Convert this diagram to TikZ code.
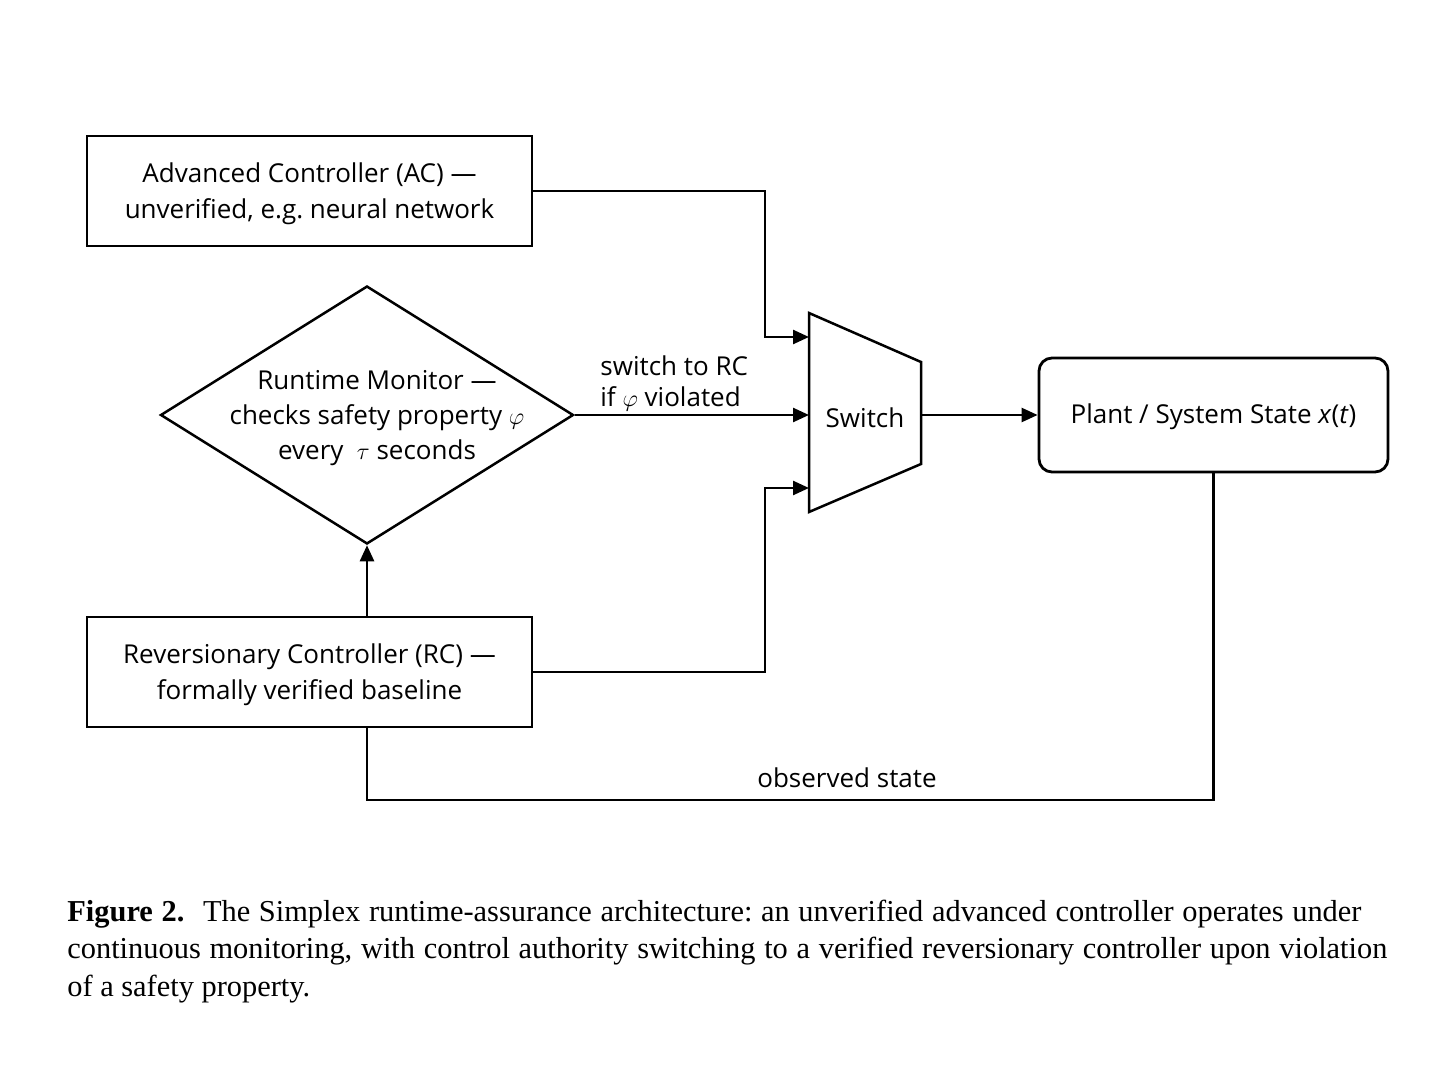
\documentclass[tikz,border=0pt]{standalone}
\usepackage{fontspec}
\setmainfont{Open Sans}
\newfontfamily\capfont{Liberation Serif}
\usetikzlibrary{shapes.geometric,arrows.meta}
\frenchspacing
\begin{document}
\begin{tikzpicture}[x=0.5pt,y=-0.5pt,
  every node/.style={font=\fontsize{13pt}{18pt}\selectfont},
  blockbox/.style={draw,line width=1.4pt,minimum width=222.5pt,minimum height=55pt,inner sep=0pt},
  blocktext/.style={align=center,inner sep=0pt},
  plantbox/.style={draw,line width=1.4pt,rounded corners=6.5pt,minimum width=174.5pt,minimum height=57pt,inner sep=0pt},
  monbox/.style={draw,diamond,line width=1.25pt,minimum width=206.5pt,minimum height=129pt,inner sep=0pt},
  conn/.style={line width=1.25pt},
  arr/.style={line width=1.25pt,-{Triangle[length=8pt,width=7pt]}},
  captext/.style={anchor=base west,inner sep=0pt,font=\capfont\fontsize{15.2pt}{18.75pt}\selectfont}]
\useasboundingbox (0,0) rectangle (1448,1086);
\fill[white] (0,0) rectangle (1448,1086);

% blocks
\node[blockbox] (ac) at (309.5,191) {};
\node[blocktext] (actext) at (309.5,194) {Advanced Controller (AC) —\\unverified, e.g. neural network};
\node[blockbox] (rc) at (309.5,672) {};
\node[blocktext] (rctext) at (309.5,675) {Reversionary Controller (RC) —\\formally verified baseline};
\node[monbox] (mon) at (367,415) {};
\node[align=center,inner sep=0pt,font=\fontsize{13pt}{17.3pt}\selectfont] (montext) at (377,418) {Runtime Monitor —\\checks safety property $\varphi$\\every~ $\tau$ seconds};
\node[plantbox] (plant) at (1213.5,415) {};
\node[inner sep=0pt] (planttext) at (1213.5,417) {Plant / System State \textit{x}(\textit{t})};

% switch trapezoid
\draw[line width=1.25pt,line join=miter] (809,313) -- (921,362) -- (921,464) -- (809,512) -- cycle;
\node[inner sep=0pt] (sw) at (865,418) {Switch};
\coordinate (sw1) at (809,337);
\coordinate (sw2) at (809,415);
\coordinate (sw3) at (809,488);
\coordinate (swo) at (921,415);
\coordinate (jx) at (765,0);
\coordinate (fb) at (367,800);

% connectors
\draw[arr] (ac.east) -- (ac.east -| jx) -- (jx |- sw1) -- (sw1);
\draw[arr] (rc.east) -- (rc.east -| jx) -- (jx |- sw3) -- (sw3);
\draw[arr] (mon.east) -- (sw2);
\draw[arr] (swo) -- (plant.west);
\draw[arr] (mon.south |- rc.north) -- (mon.south);
\draw[conn] (plant.south) |- (fb) -- (fb |- rc.south);

% labels
\node[align=left,anchor=west,inner sep=0pt,font=\fontsize{13pt}{15.5pt}\selectfont] (swlab) at (600,383) {switch to RC\\if $\varphi$ violated};
\node[inner sep=0pt] (obs) at (847,778) {observed state};

% caption
\node[captext] (cap1) at (67,921) {\makebox[647pt][s]{\textbf{Figure 2.}\hspace{5pt} The Simplex runtime-assurance architecture: an unverified advanced controller operates under}};
\node[captext] (cap2) at (67,958.5) {\makebox[660pt][s]{continuous monitoring, with control authority switching to a verified reversionary controller upon violation}};
\node[captext] (cap3) at (67,996) {of a safety property.};
\end{tikzpicture}
\end{document}
